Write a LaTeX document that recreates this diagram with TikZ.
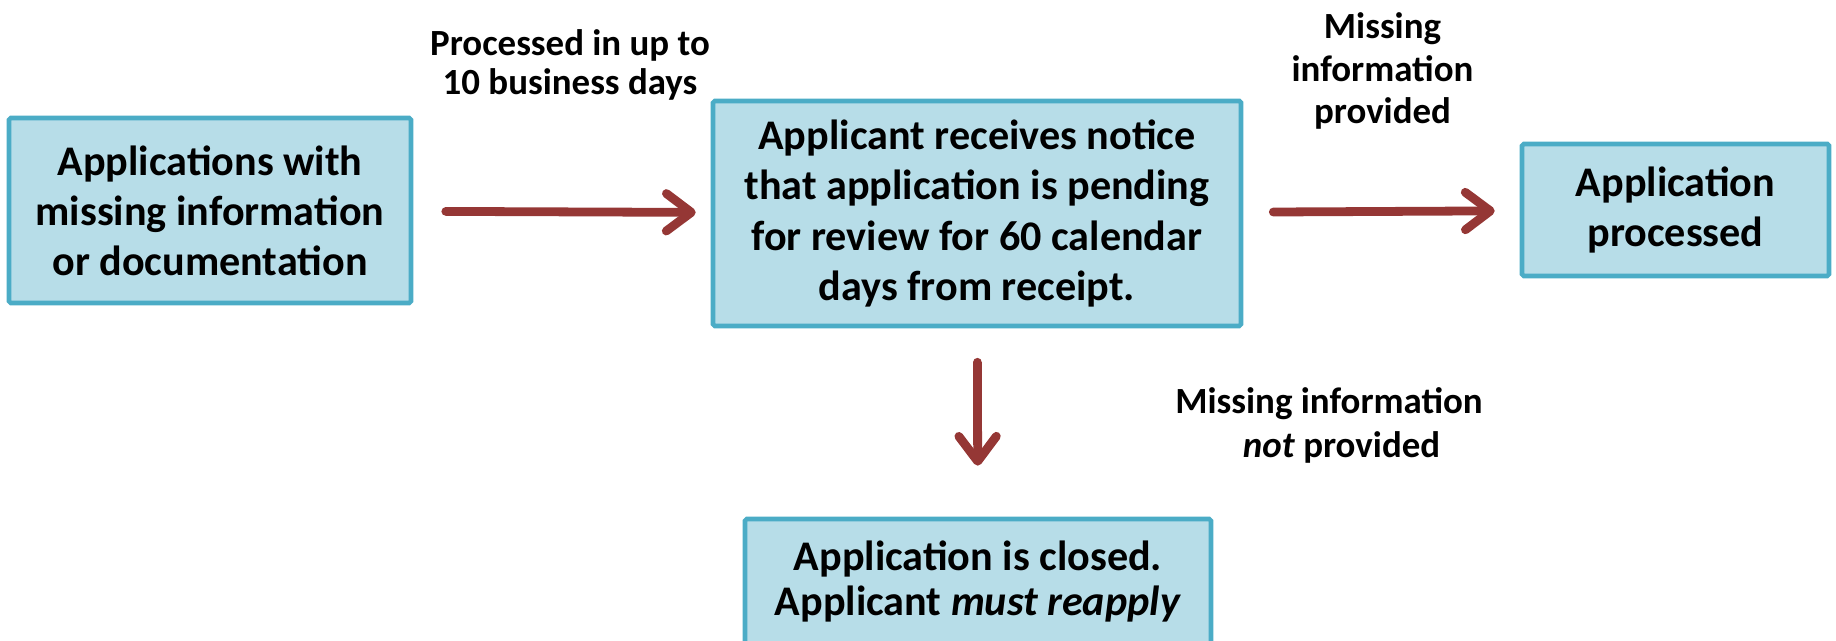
\documentclass[tikz,border=0pt]{standalone}
\usepackage{fontspec}
\setmainfont{Carlito}
\usetikzlibrary{arrows.meta,calc}
\definecolor{boxfill}{RGB}{183,221,232}
\definecolor{boxline}{RGB}{75,172,198}
\definecolor{arrowred}{RGB}{149,55,53}

\begin{document}
\begin{tikzpicture}

\tikzstyle{bluebox} = [draw=boxline, line width=2.6pt, fill=boxfill,
    rounded corners=1pt, inner sep=0, align=center,
    font=\fontsize{24}{28.5}\selectfont\bfseries]
\tikzstyle{redarrow} = [draw=arrowred, line width=5pt, line cap=round,
    -{Straight Barb[length=0.5cm, width=0.75cm, round]}]
\tikzstyle{steplabel} = [align=center,
    font=\fontsize{21}{22}\selectfont\bfseries]

\useasboundingbox (0,0) rectangle (36.72,12.82);

% =========================
% boxes
% =========================
\node[bluebox, minimum width=8.04cm, minimum height=3.7cm] (appmissing) at (4.2,8.61)
    {Applications with\\ missing information\\ or documentation};

\node[bluebox, minimum width=10.56cm, minimum height=4.5cm] (notice) at (19.54,8.55)
    {Applicant receives notice\\ that application is pending\\ for review for 60 calendar\\ days from receipt.};

\node[bluebox, minimum width=6.14cm, minimum height=2.64cm] (processed) at (33.51,8.62)
    {Application\\ processed};

\node[bluebox, minimum width=9.32cm, minimum height=2.5cm,
    font=\fontsize{24}{26}\selectfont\bfseries] (closed) at (19.56,1.19)
    {Application is closed.\\ Applicant \textit{must reapply}};

% =========================
% arrows
% =========================
\draw[redarrow, shorten <=0.65cm, shorten >=0.3cm] (appmissing) -- (notice);
\draw[redarrow, shorten <=0.6cm, shorten >=0.5cm] (notice) -- (processed);
\draw[redarrow, shorten <=0.68cm, shorten >=1.02cm] (notice) -- (closed);

% labels
\node[steplabel] (lbldays) at (11.4,11.52) {Processed in up to\\ 10 business days};
\node[steplabel, font=\fontsize{21}{24}\selectfont\bfseries] (lblprovided) at (27.65,11.4)
    {Missing\\ information\\ provided};
\node[steplabel, font=\fontsize{21}{25}\selectfont\bfseries] (lblnot) at (26.58,4.32)
    {Missing information\\ \hspace*{0.5cm}\textit{not} provided};

\end{tikzpicture}
\end{document}
